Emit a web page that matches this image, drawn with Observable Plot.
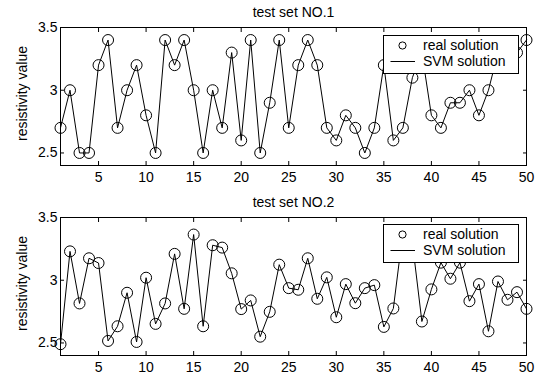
<!DOCTYPE html>
<html>
<head>
<meta charset="utf-8">
<script src="https://cdn.jsdelivr.net/npm/d3@7"></script>
<script src="https://cdn.jsdelivr.net/npm/@observablehq/plot@0.6"></script>
<style>
  html, body { margin: 0; padding: 0; background: #fff; }
  #wrap { position: relative; width: 539px; height: 377px; overflow: hidden; font-family: "Liberation Sans", Arial, sans-serif; }
  .panel { position: absolute; left: 0; }
  .legend { position: absolute; }
</style>
</head>
<body>
<div id="wrap"></div>
<script>
// ---- data ----
const sampleIndex = [1,2,3,4,5,6,7,8,9,10,11,12,13,14,15,16,17,18,19,20,21,22,23,24,25,26,27,28,29,30,31,32,33,34,35,36,37,38,39,40,41,42,43,44,45,46,47,48,49,50];
const set1Values = [2.7,3.0,2.5,2.5,3.2,3.4,2.7,3.0,3.2,2.8, 2.5,3.4,3.2,3.4,3.0,2.5,3.0,2.7,3.3,2.6,
                    3.4,2.5,2.9,3.4,2.7,3.2,3.4,3.2,2.7,2.6, 2.8,2.7,2.5,2.7,3.2,2.6,2.7,3.1,3.3,2.8,
                    2.7,2.9,2.9,3.0,2.8,3.0,3.3,3.2,3.3,3.4];
const set2Values = [2.49,3.23,2.815,3.175,3.137,2.516,2.633,2.9,2.508,3.02, 2.652,2.815,3.21,2.772,3.364,2.633,3.279,3.26,3.055,2.77,
                    2.839,2.55,2.748,3.124,2.937,2.924,3.175,2.852,3.023,2.705, 2.969,2.817,2.937,2.961,2.628,2.775,3.38,3.3,2.671,2.927,
                    3.14,3.012,3.14,2.833,2.969,2.593,2.99,2.844,2.905,2.772];
const xTicks = [5,10,15,20,25,30,35,40,45,50];
const yTicks = [2.5, 3, 3.5];
const yTickLabels = ["2.5", "3", "3.5"];
const titles = ["test set NO.1", "test set NO.2"];
const yLabel = "resistivity value";
const legendLabels = ["real solution", "SVM solution"];

const font = '"Liberation Sans", Arial, sans-serif';

function panel(values, title, height, marginBottom) {
  const data = sampleIndex.map((x, i) => ({x, y: values[i]}));
  const blank = () => "";
  return Plot.plot({
    width: 539, height,
    marginTop: 27, marginLeft: 60, marginRight: 13, marginBottom,
    style: {fontFamily: font, fontSize: "14px", color: "black", background: "transparent", overflow: "visible"},
    x: {domain: [1, 50]},
    y: {domain: [2.4, 3.5]},
    marks: [
      Plot.frame({stroke: "black", strokeWidth: 1}),
      // labels
      Plot.axisX(xTicks, {anchor: "bottom", tickSize: 0, tickPadding: 7, label: null, fontSize: 14, fill: "black"}),
      Plot.axisY(yTicks, {anchor: "left", tickSize: 0, tickPadding: 3, label: null, fontSize: 14, fill: "black",
        tickFormat: d => yTickLabels[yTicks.indexOf(d)]}),
      // inward ticks
      Plot.axisX(xTicks, {anchor: "bottom", tickSize: 4, dy: -4, tickFormat: blank, label: null, stroke: "black"}),
      Plot.axisX(xTicks, {anchor: "top", tickSize: 4, dy: 4, tickFormat: blank, label: null, stroke: "black"}),
      Plot.axisY(yTicks, {anchor: "left", tickSize: 4, dx: 4, tickFormat: blank, label: null, stroke: "black"}),
      Plot.axisY(yTicks, {anchor: "right", tickSize: 4, dx: -4, tickFormat: blank, label: null, stroke: "black"}),
      // data
      Plot.line(data, {x: "x", y: "y", stroke: "black", strokeWidth: 1}),
      Plot.dot(data, {x: "x", y: "y", r: 5.5, stroke: "black", strokeWidth: 1, fill: "none"}),
      // title & y label
      Plot.text([title], {frameAnchor: "top", dy: -15, textAnchor: "middle", lineAnchor: "middle", fontSize: 14, fill: "black"}),
      Plot.text([yLabel], {frameAnchor: "left", rotate: -90, dx: -38, dy: -3, textAnchor: "middle", lineAnchor: "middle", fontSize: 14, fill: "black"})
    ]
  });
}

function legend(left, top) {
  const ns = "http://www.w3.org/2000/svg";
  const svg = document.createElementNS(ns, "svg");
  svg.setAttribute("width", 136);
  svg.setAttribute("height", 40);
  svg.setAttribute("class", "legend");
  svg.style.left = left + "px";
  svg.style.top = top + "px";
  svg.innerHTML = `
    <rect x="0.5" y="0.5" width="135" height="38" fill="white" stroke="black" stroke-width="1"/>
    <circle cx="19.5" cy="10.5" r="3.6" fill="none" stroke="black" stroke-width="1"/>
    <line x1="7.5" x2="32" y1="26.5" y2="26.5" stroke="black" stroke-width="1"/>
    <text x="40" y="10.5" dy="0.35em" font-family='${font}' font-size="14" fill="black">${legendLabels[0]}</text>
    <text x="40" y="26.5" dy="0.35em" font-family='${font}' font-size="14" fill="black">${legendLabels[1]}</text>`;
  return svg;
}

const wrap = document.getElementById("wrap");
const p1 = panel(set1Values, titles[0], 190, 25);
p1.classList.add("panel"); p1.style.top = "0px";
const p2 = panel(set2Values, titles[1], 187, 22);
p2.classList.add("panel"); p2.style.top = "190px";
wrap.appendChild(p1);
wrap.appendChild(p2);
wrap.appendChild(legend(383, 35));
wrap.appendChild(legend(383, 224));
</script>
</body>
</html>
